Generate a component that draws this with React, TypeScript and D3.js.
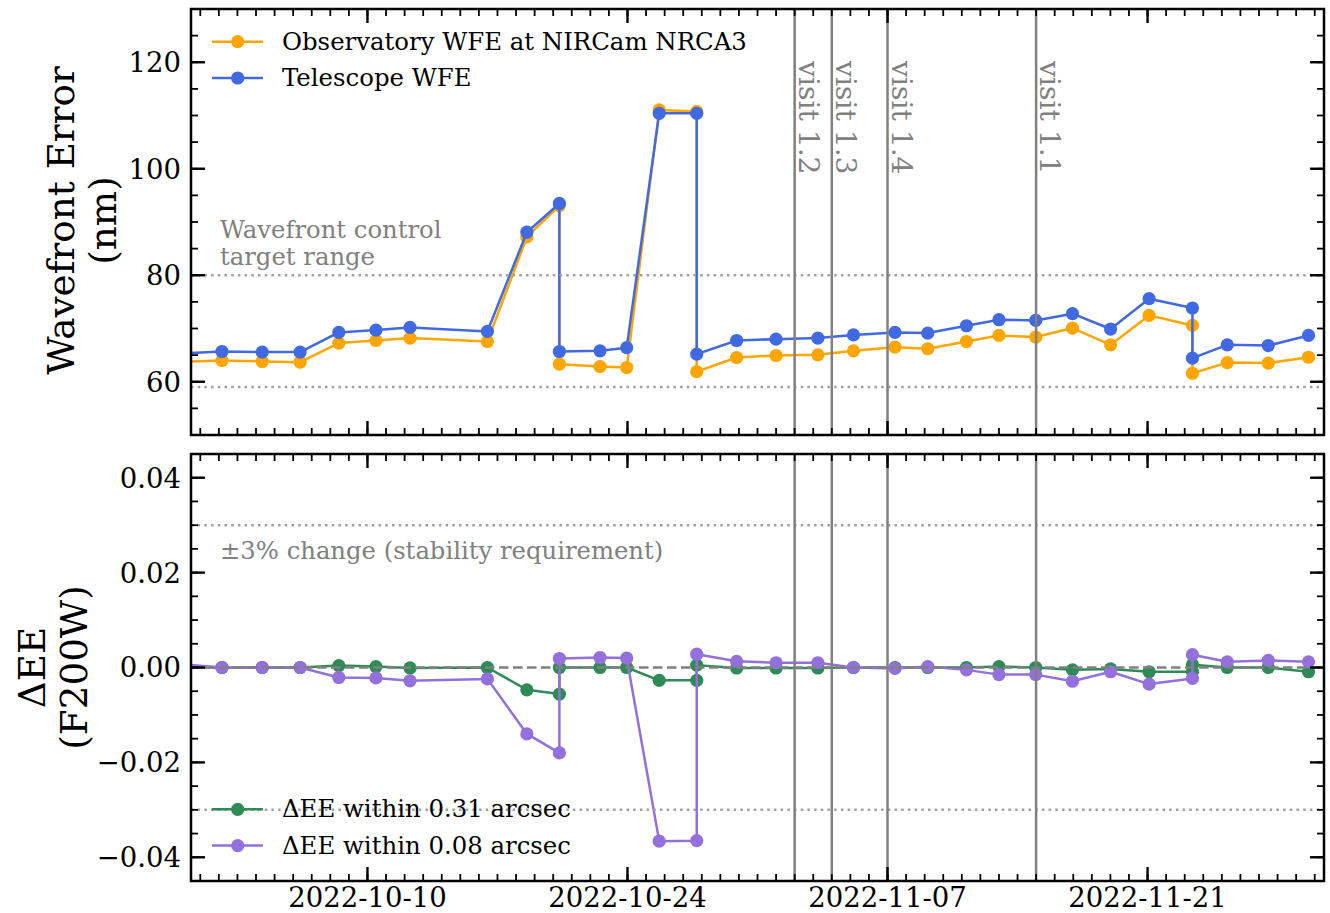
import React from "react";
import * as d3 from "d3";

// ---------- data ----------
const dates = [
  "2022-09-29T12:00", "2022-10-02T04:00", "2022-10-04T08:00", "2022-10-06T09:00",
  "2022-10-08T11:00", "2022-10-10T11:00", "2022-10-12T07:00", "2022-10-16T11:00",
  "2022-10-18T14:00", "2022-10-20T08:00", "2022-10-20T08:00", "2022-10-22T12:30",
  "2022-10-23T23:00", "2022-10-25T17:00", "2022-10-27T17:30", "2022-10-27T17:30",
  "2022-10-29T21:00", "2022-11-01T00:00", "2022-11-03T06:00", "2022-11-05T04:00",
  "2022-11-07T09:40", "2022-11-09T04:00", "2022-11-11T06:00", "2022-11-13T00:00",
  "2022-11-14T23:30", "2022-11-16T23:00", "2022-11-19T00:15", "2022-11-21T02:00",
  "2022-11-23T10:00", "2022-11-23T10:00", "2022-11-25T07:00", "2022-11-27T12:00",
  "2022-11-29T16:00",
];

const observatoryWFE = [
  63.68, 63.99, 63.8, 63.68, 67.26, 67.75, 68.2, 67.56, 87.2, 93.1, 63.3, 62.86,
  62.67, 111.05, 110.74, 61.9, 64.55, 64.93, 65.06, 65.8, 66.5, 66.2, 67.56, 68.7,
  68.4, 70.08, 66.94, 72.46, 70.58, 61.6, 63.6, 63.5, 64.6,
];

const telescopeWFE = [
  65.25, 65.68, 65.57, 65.57, 69.26, 69.7, 70.2, 69.45, 88.08, 93.48, 65.68, 65.8,
  66.4, 110.4, 110.4, 65.2, 67.75, 68.0, 68.2, 68.8, 69.26, 69.14, 70.52, 71.65,
  71.52, 72.78, 69.9, 75.6, 73.85, 64.43, 66.94, 66.8, 68.7,
];

const deltaEE031 = [
  0, 0, 0, 0, 0.0004, 0.0002, -0.0001, 0, -0.0047, -0.0056, 0, 0,
  0, -0.0027, -0.0027, 0.0005, -0.0001, -0.0001, -0.0001, 0, 0, 0, 0, 0.0002,
  0, -0.0005, -0.0003, -0.0009, -0.0009, 0.0006, 0, 0, -0.0009,
];

const deltaEE008 = [
  0.0008, 0, 0, 0, -0.0021, -0.0022, -0.0028, -0.0024, -0.014, -0.018, 0.0019, 0.0021,
  0.002, -0.0366, -0.0365, 0.0028, 0.0013, 0.001, 0.001, 0, -0.0002, 0.0002, -0.0005, -0.0015,
  -0.0015, -0.0029, -0.0009, -0.0035, -0.0023, 0.0027, 0.0012, 0.0015, 0.0012,
];

const visitDates = ["2022-11-02T00:00", "2022-11-04T00:00", "2022-11-07T00:00", "2022-11-15T00:00"];
const visitLabels = ["visit 1.2", "visit 1.3", "visit 1.4", "visit 1.1"];

const xDomain = ["2022-09-30T12:00", "2022-11-30T12:00"];
const xMajorTicks = ["2022-10-10", "2022-10-24", "2022-11-07", "2022-11-21"];

const wfeDomain = [50, 130];
const wfeTicks = [60, 80, 100, 120];
const wfeTargetRange = [59, 80];

const eeDomain = [-0.045, 0.045];
const eeTicks = [-0.04, -0.02, 0.0, 0.02, 0.04];
const eeRequirement = [-0.03, 0.03];

const topSeries = [
  { name: "Observatory WFE at NIRCam NRCA3", values: observatoryWFE, color: "#FFA500" },
  { name: "Telescope WFE", values: telescopeWFE, color: "#4169E1" },
];
const bottomSeries = [
  { name: "\u0394EE within 0.31 arcsec", values: deltaEE031, color: "#2E8B57" },
  { name: "\u0394EE within 0.08 arcsec", values: deltaEE008, color: "#9370DB" },
];

// ---------- layout ----------
const W = 1330;
const H = 913;
const L = 191;
const R = 1324;
const TOP1 = 9;
const BOT1 = 435;
const TOP2 = 454;
const BOT2 = 881;
const FONT = "DejaVu Serif";
const TICK_FS = 27.5;
const LEG_FS = 24.4;
const ANN_FS = 24.3;
const LABEL_FS = 37.3;
const MARK_R = 6.6;
const LINE_W = 2.5;
const parseT = d3.utcParse("%Y-%m-%dT%H:%M");
const parseD = d3.utcParse("%Y-%m-%d");

const x = d3
  .scaleUtc()
  .domain(xDomain.map((s) => parseT(s) as Date))
  .range([L, R]);

function fmtEE(v: number) {
  const s = Math.abs(v).toFixed(2);
  return v < -1e-9 ? "\u2212" + s : s;
}

function XTicks({ top, bottom }: { top: number; bottom: number }) {
  const [d0, d1] = x.domain();
  const minor = d3.utcDay.range(d0, d1);
  const major = xMajorTicks.map((s) => parseD(s) as Date);
  return (
    <g stroke="black">
      {minor.map((d, i) => (
        <g key={"m" + i}>
          <line x1={x(d)} x2={x(d)} y1={bottom} y2={bottom - 7} strokeWidth={1.8} />
          <line x1={x(d)} x2={x(d)} y1={top} y2={top + 7} strokeWidth={1.8} />
        </g>
      ))}
      {major.map((d, i) => (
        <g key={"M" + i}>
          <line x1={x(d)} x2={x(d)} y1={bottom} y2={bottom - 14} strokeWidth={2.4} />
          <line x1={x(d)} x2={x(d)} y1={top} y2={top + 14} strokeWidth={2.4} />
        </g>
      ))}
    </g>
  );
}

function YTicks({
  y,
  major,
  minorStep,
  fmt,
}: {
  y: d3.ScaleLinear<number, number>;
  major: number[];
  minorStep: number;
  fmt: (v: number) => string;
}) {
  const [a, b] = y.domain();
  const minor = d3.range(Math.ceil(a / minorStep - 1e-6), Math.floor(b / minorStep + 1e-6) + 1).map((k) => k * minorStep);
  return (
    <g>
      <g stroke="black">
        {minor.map((v, i) => (
          <g key={"m" + i}>
            <line x1={L} x2={L + 7} y1={y(v)} y2={y(v)} strokeWidth={1.8} />
            <line x1={R} x2={R - 7} y1={y(v)} y2={y(v)} strokeWidth={1.8} />
          </g>
        ))}
        {major.map((v, i) => (
          <g key={"M" + i}>
            <line x1={L} x2={L + 14} y1={y(v)} y2={y(v)} strokeWidth={2.4} />
            <line x1={R} x2={R - 14} y1={y(v)} y2={y(v)} strokeWidth={2.4} />
          </g>
        ))}
      </g>
      {major.map((v, i) => (
        <text
          key={"t" + i}
          x={L - 10}
          y={y(v) + TICK_FS * 0.36}
          textAnchor="end"
          fontFamily={FONT}
          fontSize={TICK_FS}
          fill="black"
        >
          {fmt(v)}
        </text>
      ))}
    </g>
  );
}

function SeriesPlot({
  y,
  series,
  clipId,
}: {
  y: d3.ScaleLinear<number, number>;
  series: { name: string; values: number[]; color: string }[];
  clipId: string;
}) {
  const pts = dates.map((s) => parseT(s) as Date);
  return (
    <g clipPath={`url(#${clipId})`}>
      {series.map((s) => {
        const data = s.values.map((v, i) => [pts[i], v] as [Date, number]);
        const line = d3
          .line<[Date, number]>()
          .x((d) => x(d[0]))
          .y((d) => y(d[1]));
        return (
          <g key={s.name}>
            <path d={line(data) || ""} fill="none" stroke={s.color} strokeWidth={LINE_W} strokeLinejoin="round" />
            {data.map((d, i) => (
              <circle key={i} cx={x(d[0])} cy={y(d[1])} r={MARK_R} fill={s.color} />
            ))}
          </g>
        );
      })}
    </g>
  );
}

function Legend({
  series,
  y0,
}: {
  series: { name: string; color: string }[];
  y0: number;
}) {
  return (
    <g>
      {series.map((s, i) => {
        const cy = y0 + i * 36.3;
        return (
          <g key={s.name}>
            <line x1={212} x2={263} y1={cy} y2={cy} stroke={s.color} strokeWidth={LINE_W} />
            <circle cx={237.7} cy={cy} r={MARK_R} fill={s.color} />
            <text x={282} y={cy + 7.9} fontFamily={FONT} fontSize={LEG_FS} fill="black">
              {s.name}
            </text>
          </g>
        );
      })}
    </g>
  );
}

export default function App() {
  const yTop = d3.scaleLinear().domain(wfeDomain).range([BOT1, TOP1]);
  const yBot = d3.scaleLinear().domain(eeDomain).range([BOT2, TOP2]);
  const visits = visitDates.map((s) => parseT(s) as Date);

  return (
    <div style={{ position: "absolute", left: 0, top: 0, width: W, height: H, background: "white" }}>
      <svg width={W} height={H} viewBox={`0 0 ${W} ${H}`} style={{ display: "block" }}>
        <defs>
          <clipPath id="clipTop">
            <rect x={L} y={TOP1} width={R - L} height={BOT1 - TOP1} />
          </clipPath>
          <clipPath id="clipBot">
            <rect x={L} y={TOP2} width={R - L} height={BOT2 - TOP2} />
          </clipPath>
        </defs>
        <rect width={W} height={H} fill="white" />

        {/* ---------- top panel ---------- */}
        <SeriesPlot y={yTop} series={topSeries} clipId="clipTop" />
        <g clipPath="url(#clipTop)">
          {wfeTargetRange.map((v, i) => (
            <line
              key={i}
              x1={L}
              x2={R}
              y1={yTop(v)}
              y2={yTop(v)}
              stroke="#a0a0a0"
              strokeWidth={2.5}
              strokeDasharray="2.5,4.2"
            />
          ))}
          {visits.map((d, i) => (
            <line key={i} x1={x(d)} x2={x(d)} y1={TOP1} y2={BOT1} stroke="#808080" strokeWidth={2.5} />
          ))}
        </g>
        {visits.map((d, i) => (
          <text
            key={"vt" + i}
            transform={`translate(${x(d) + 4},${61}) rotate(90)`}
            fontFamily={FONT}
            fontSize={28.2}
            fill="#808080"
          >
            {visitLabels[i]}
          </text>
        ))}
        <text fontFamily={FONT} fontSize={ANN_FS} fill="#808080">
          <tspan x={220} y={237.5}>Wavefront control</tspan>
          <tspan x={220} y={264.5}>target range</tspan>
        </text>
        <Legend series={topSeries} y0={41.7} />
        <XTicks top={TOP1} bottom={BOT1} />
        <YTicks y={yTop} major={wfeTicks} minorStep={5} fmt={(v) => String(v)} />
        <rect x={L} y={TOP1} width={R - L} height={BOT1 - TOP1} fill="none" stroke="black" strokeWidth={2.5} />
        <text
          transform={`translate(74,${(TOP1 + BOT1) / 2 - 1.5}) rotate(-90)`}
          textAnchor="middle"
          fontFamily={FONT}
          fontSize={LABEL_FS}
          fill="black"
        >
          Wavefront Error
        </text>
        <text
          transform={`translate(116,${(TOP1 + BOT1) / 2 - 1.5}) rotate(-90)`}
          textAnchor="middle"
          fontFamily={FONT}
          fontSize={LABEL_FS}
          fill="black"
        >
          (nm)
        </text>

        {/* ---------- bottom panel ---------- */}
        <SeriesPlot y={yBot} series={bottomSeries} clipId="clipBot" />
        <g clipPath="url(#clipBot)">
          {eeRequirement.map((v, i) => (
            <line
              key={i}
              x1={L}
              x2={R}
              y1={yBot(v)}
              y2={yBot(v)}
              stroke="#a0a0a0"
              strokeWidth={2.5}
              strokeDasharray="2.5,4.2"
            />
          ))}
          <line x1={L} x2={R} y1={yBot(0)} y2={yBot(0)} stroke="#808080" strokeWidth={2.5} strokeDasharray="9.5,4.5" />
          {visits.map((d, i) => (
            <line key={i} x1={x(d)} x2={x(d)} y1={TOP2} y2={BOT2} stroke="#808080" strokeWidth={2.5} />
          ))}
        </g>
        <text x={220} y={558.5} fontFamily={FONT} fontSize={ANN_FS} fill="#808080">
          ±3% change (stability requirement)
        </text>
        <Legend series={bottomSeries} y0={809.3} />
        <XTicks top={TOP2} bottom={BOT2} />
        <YTicks y={yBot} major={eeTicks} minorStep={0.005} fmt={fmtEE} />
        <rect x={L} y={TOP2} width={R - L} height={BOT2 - TOP2} fill="none" stroke="black" strokeWidth={2.5} />
        {xMajorTicks.map((s) => (
          <text
            key={s}
            x={x(parseD(s) as Date)}
            y={907}
            textAnchor="middle"
            fontFamily={FONT}
            fontSize={TICK_FS}
            fill="black"
          >
            {s}
          </text>
        ))}
        <text
          transform={`translate(45,${(TOP2 + BOT2) / 2}) rotate(-90)`}
          textAnchor="middle"
          fontFamily={FONT}
          fontSize={LABEL_FS}
          fill="black"
        >
          ΔEE
        </text>
        <text
          transform={`translate(87,${(TOP2 + BOT2) / 2}) rotate(-90)`}
          textAnchor="middle"
          fontFamily={FONT}
          fontSize={LABEL_FS}
          fill="black"
        >
          (F200W)
        </text>
      </svg>
    </div>
  );
}
